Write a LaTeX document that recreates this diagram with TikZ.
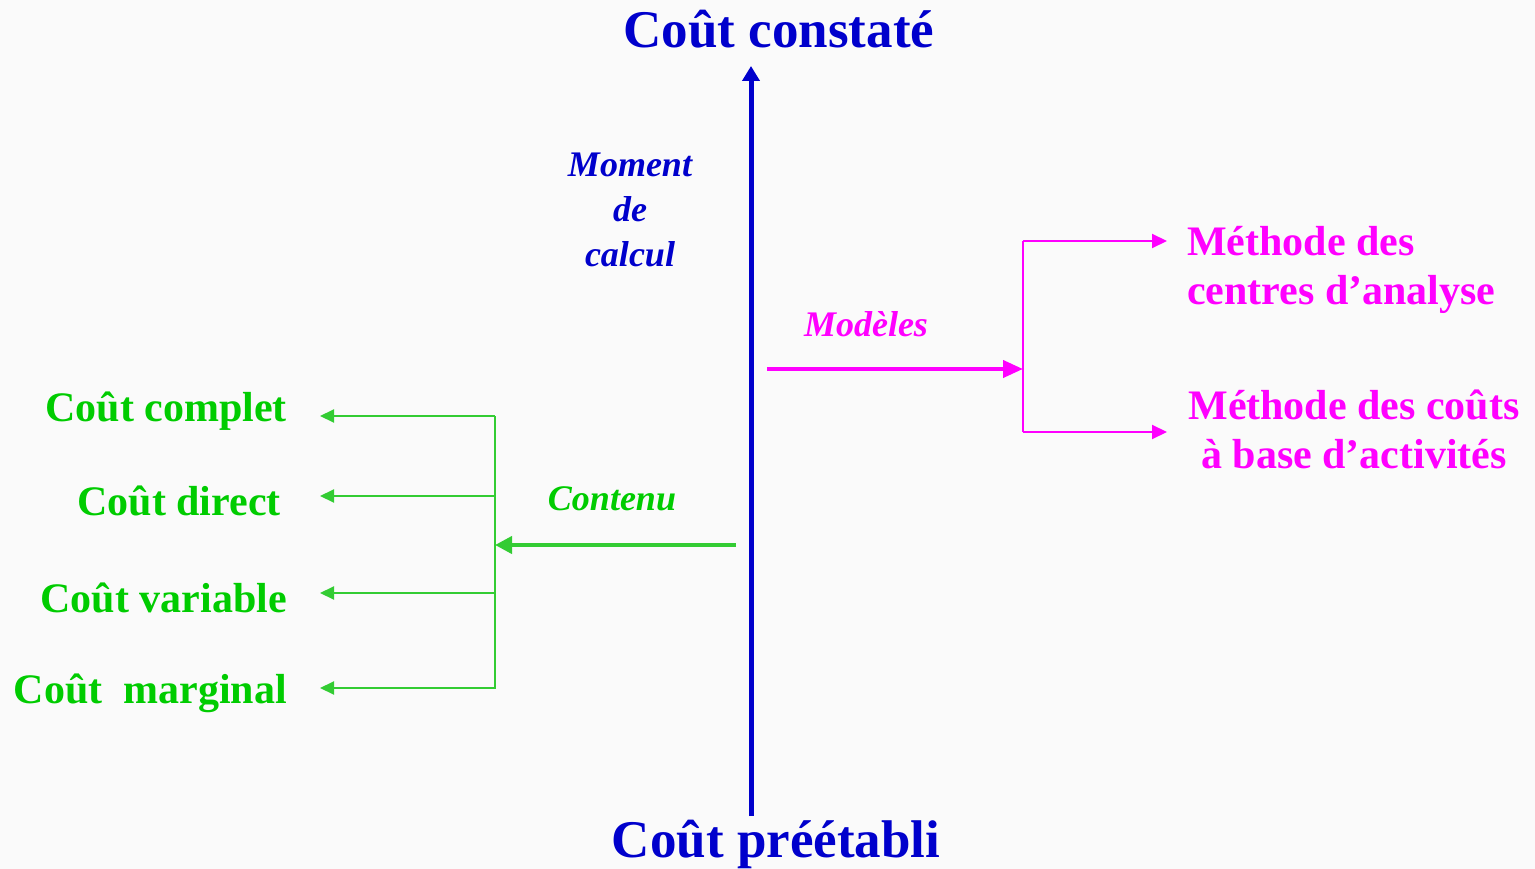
\documentclass[tikz,border=0pt]{standalone}
\usepackage{fontspec}
\setmainfont{Liberation Serif}
\usetikzlibrary{arrows.meta}
\definecolor{bleu}{HTML}{0000CC}
\definecolor{vert}{HTML}{00CC00}
\definecolor{vertfil}{HTML}{33CC33}
\definecolor{rose}{HTML}{FF00FF}
\definecolor{fond}{HTML}{FAFAFA}

\begin{document}
\begin{tikzpicture}[x=1pt, y=-1pt,
    titre/.style = {text=bleu, inner sep=0pt, anchor=base,
      font=\fontsize{53}{60}\selectfont\bfseries},
    etiq/.style = {inner sep=0pt, anchor=base, align=center,
      font=\fontsize{36}{45}\selectfont\bfseries\itshape},
    vlabel/.style = {text=vert, inner sep=0pt, anchor=base east,
      font=\fontsize{42}{48}\selectfont\bfseries},
    rlabel/.style = {text=rose, inner sep=0pt, anchor=base west,
      font=\fontsize{42}{49}\selectfont\bfseries},
    axe/.style = {draw=bleu, line width=5pt, -{Triangle[length=15pt, width=17pt]}},
    vgros/.style = {draw=vertfil, line width=4pt, -{Triangle[length=17pt, width=17pt]}},
    vfin/.style = {draw=vertfil, line width=2pt, -{Triangle[length=14pt, width=13pt]}},
    rgros/.style = {draw=rose, line width=4pt, -{Triangle[length=20pt, width=17pt]}},
    rfin/.style = {draw=rose, line width=2pt, -{Triangle[length=15pt, width=14pt]}}]
  \fill[fond] (0,0) rectangle (1535,869);
  \useasboundingbox (0,0) rectangle (1535,869);

  % axe vertical
  \node[titre] (constate) at (779,48) {Coût constaté};
  \node[titre] (preetabli) at (776,857) {Coût préétabli};
  \coordinate (basAxe) at (751,816);
  \coordinate (hautAxe) at (751,66);
  \draw[axe] (basAxe) -- (hautAxe);
  \node[etiq, text=bleu] (moment) at (630,267) {Moment\\de\\calcul};

  % contenu
  \node[etiq, text=vert] (contenu) at (612,510) {Contenu};
  \coordinate (departC) at (736,545);
  \coordinate (noeudC) at (495,545);
  \draw[vgros] (departC) -- (noeudC);
  \draw[vertfil, line width=2pt] (495,416) -- (495,689);
  \node[vlabel] (complet) at (287,421) {Coût complet};
  \node[vlabel] (direct) at (281,515) {Coût direct};
  \node[vlabel] (variable) at (287,612) {Coût variable};
  \node[vlabel] (marginal) at (287,703) {Coût\ \ marginal};
  \foreach \nom/\y in {Complet/416, Direct/496, Variable/593, Marginal/688} {
    \coordinate (j\nom) at (495,\y);
    \coordinate (p\nom) at (320,\y);
    \draw[vfin] (j\nom) -- (p\nom);
  }

  % modeles
  \node[etiq, text=rose] (modeles) at (866,337) {Modèles};
  \coordinate (departM) at (767,369);
  \coordinate (noeudM) at (1023,369);
  \draw[rgros] (departM) -- (noeudM);
  \coordinate (jCentres) at (1023,241);
  \coordinate (jActivites) at (1023,432);
  \draw[rose, line width=2pt] (jCentres) -- (jActivites);
  \coordinate (pCentres) at (1167,241);
  \coordinate (pActivites) at (1167,432);
  \draw[rfin] (jCentres) -- (pCentres);
  \draw[rfin] (jActivites) -- (pActivites);
  \node[rlabel, align=left] (centres) at (1187,305) {Méthode des\\centres d’analyse};
  \node[rlabel, anchor=base, align=center] (activites) at (1354,468) {Méthode des coûts\\à base d’activités};
\end{tikzpicture}
\end{document}
